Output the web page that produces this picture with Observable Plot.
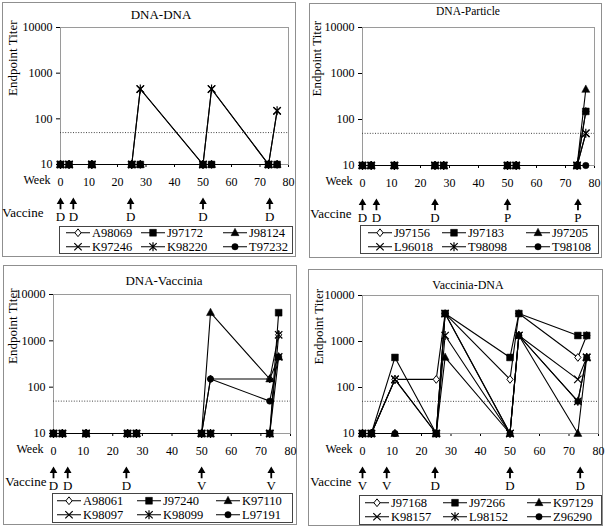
<!DOCTYPE html>
<html><head><meta charset="utf-8">
<script src="https://cdn.jsdelivr.net/npm/d3@7"></script>
<script src="https://cdn.jsdelivr.net/npm/@observablehq/plot@0.6"></script>
<style>
body{margin:0;background:#fff;font-family:"Liberation Serif","Times New Roman",serif;color:#000;}
#root{position:relative;width:608px;height:527px;overflow:hidden;background:#fff;}
.frame{position:absolute;border:1px solid #8f8f8f;box-sizing:border-box;}
.title{position:absolute;transform:translate(-50%,-50%);white-space:nowrap;font-size:13px;line-height:1;}
.legend{position:absolute;border:1px solid #444;box-sizing:border-box;background:#fff;}
.entry{position:absolute;display:flex;align-items:center;transform:translateY(-50%);white-space:nowrap;font-size:12.5px;line-height:1;}
.entry svg{display:block;margin-right:2px;}
</style></head><body><div id="root"></div>
<script>
// ---------- shared axis data ----------
const xTicks = [0, 10, 20, 30, 40, 50, 60, 70, 80];
const yTicks = [10, 100, 1000, 10000];
const thresholdTiter = 50;
const baselineTiter = 10;
const seriesSymbols = ["diamond", "square", "triangle", "times", "asterisk", "circle"];

// ---------- DNA-DNA ----------
const p1Title = "DNA-DNA";
const p1Weeks = [0, 3, 11, 25, 28, 50, 53, 73, 76];
const p1Names = ["A98069", "J97172", "J98124", "K97246", "K98220", "T97232"];
const p1A98069 = [10, 10, 10, 10, 10, 10, 10, 10, 10];
const p1J97172 = [10, 10, 10, 10, 10, 10, 10, 10, 10];
const p1J98124 = [10, 10, 10, 10, 10, 10, 10, 10, 10];
const p1K97246 = [10, 10, 10, 10, 450, 10, 450, 10, 150];
const p1K98220 = [10, 10, 10, 10, 450, 10, 450, 10, 150];
const p1T97232 = [10, 10, 10, 10, 10, 10, 10, 10, 10];
const p1VaccineWeeks = [0, 4.5, 24.6, 50, 73.4];
const p1VaccineLabels = ["D", "D", "D", "D", "D"];

// ---------- DNA-Particle ----------
const p2Title = "DNA-Particle";
const p2Weeks = [0, 3, 11, 25, 28, 50, 53, 74, 77];
const p2Names = ["J97156", "J97183", "J97205", "L96018", "T98098", "T98108"];
const p2J97156 = [10, 10, 10, 10, 10, 10, 10, 10, 150];
const p2J97183 = [10, 10, 10, 10, 10, 10, 10, 10, 150];
const p2J97205 = [10, 10, 10, 10, 10, 10, 10, 10, 450];
const p2L96018 = [10, 10, 10, 10, 10, 10, 10, 10, 50];
const p2T98098 = [10, 10, 10, 10, 10, 10, 10, 10, 50];
const p2T98108 = [10, 10, 10, 10, 10, 10, 10, 10, 10];
const p2VaccineWeeks = [0, 4.8, 25, 50, 74.3];
const p2VaccineLabels = ["D", "D", "D", "P", "P"];

// ---------- DNA-Vaccinia ----------
const p3Title = "DNA-Vaccinia";
const p3Weeks = [0, 3, 11, 25, 28, 50, 53, 73, 76];
const p3Names = ["A98061", "J97240", "K97110", "K98097", "K98099", "L97191"];
const p3A98061 = [10, 10, 10, 10, 10, 10, 150, 150, 1350];
const p3J97240 = [10, 10, 10, 10, 10, 10, 10, 10, 4050];
const p3K97110 = [10, 10, 10, 10, 10, 10, 4050, 150, 450];
const p3K98097 = [10, 10, 10, 10, 10, 10, 10, 10, 450];
const p3K98099 = [10, 10, 10, 10, 10, 10, 10, 10, 1350];
const p3L97191 = [10, 10, 10, 10, 10, 10, 150, 50, 450];
const p3VaccineWeeks = [0, 4.8, 24.6, 50, 73.5];
const p3VaccineLabels = ["D", "D", "D", "V", "V"];

// ---------- Vaccinia-DNA ----------
const p4Title = "Vaccinia-DNA";
const p4Weeks = [0, 3, 11, 25, 28, 50, 53, 73, 76];
const p4Names = ["J97168", "J97266", "K97129", "K98157", "L98152", "Z96290"];
const p4J97168 = [10, 10, 150, 150, 4050, 150, 4050, 450, 1350];
const p4J97266 = [10, 10, 450, 10, 4050, 450, 4050, 1350, 1350];
const p4K97129 = [10, 10, 10, 10, 450, 10, 1350, 10, 450];
const p4K98157 = [10, 10, 150, 10, 4050, 10, 1350, 150, 450];
const p4L98152 = [10, 10, 150, 10, 1350, 10, 1350, 50, 450];
const p4Z96290 = [10, 10, 10, 10, 4050, 10, 1350, 50, 450];
const p4VaccineWeeks = [0, 8.2, 24.6, 50, 73.8];
const p4VaccineLabels = ["V", "V", "D", "D", "D"];

// ---------- marker shapes ----------
const shapes = {
  square: {draw(c) { c.rect(-3.4, -3.4, 6.8, 6.8); }},
  triangle: {draw(c) { c.moveTo(0, -4.5); c.lineTo(4, 2.9); c.lineTo(-4, 2.9); c.closePath(); }},
  diamond: {draw(c) { c.moveTo(0, -3.9); c.lineTo(3.1, 0); c.lineTo(0, 3.9); c.lineTo(-3.1, 0); c.closePath(); }},
  circle: {draw(c) { c.moveTo(3.2, 0); c.arc(0, 0, 3.2, 0, 2 * Math.PI); }},
  times: {draw(c) { c.moveTo(-3.7, -3.7); c.lineTo(3.7, 3.7); c.moveTo(-3.7, 3.7); c.lineTo(3.7, -3.7); }},
  asterisk: {draw(c) { c.moveTo(-3.7, -3.7); c.lineTo(3.7, 3.7); c.moveTo(-3.7, 3.7); c.lineTo(3.7, -3.7); c.moveTo(0, -4.5); c.lineTo(0, 4.5); }},
  arrow: {draw(c) { c.moveTo(0, -6); c.lineTo(3.8, 0.4); c.lineTo(-3.8, 0.4); c.closePath(); c.rect(-0.9, -0.5, 1.8, 6.2); }}
};
const shapeStyle = {
  square: {fill: "black", stroke: "black", strokeWidth: 0.5},
  triangle: {fill: "black", stroke: "black", strokeWidth: 0.5},
  circle: {fill: "black", stroke: "black", strokeWidth: 0.5},
  diamond: {fill: "white", stroke: "black", strokeWidth: 1},
  times: {fill: "none", stroke: "black", strokeWidth: 1.2},
  asterisk: {fill: "none", stroke: "black", strokeWidth: 1.2}
};
const markerOrder = [0, 5, 3, 4, 2, 1];

const panels = [
  {title: p1Title, titleX: 161, titleY: 14, titleSize: 13, weeks: p1Weeks, names: p1Names,
   titers: [p1A98069, p1J97172, p1J98124, p1K97246, p1K98220, p1T97232],
   vWeeks: p1VaccineWeeks, vLabels: p1VaccineLabels,
   frame: {l: 2, t: 2, r: 296, b: 257}, x0: 60, x80: 288, yTop: 27, yBottom: 164,
   yLabelDx: -48, vaccineDx: -17,
   legend: {l: 59, t: 226, r: 293, b: 254}, legendCols: [7, 82, 164], legendRows: [7, 20.5]},
  {title: p2Title, titleX: 468, titleY: 12, titleSize: 11.5, weeks: p2Weeks, names: p2Names,
   titers: [p2J97156, p2J97183, p2J97205, p2L96018, p2T98098, p2T98108],
   vWeeks: p2VaccineWeeks, vLabels: p2VaccineLabels,
   frame: {l: 309, t: 3, r: 602, b: 258}, x0: 362, x80: 594, yTop: 27, yBottom: 165,
   yLabelDx: -46, vaccineDx: -11,
   legend: {l: 360, t: 225, r: 599, b: 254}, legendCols: [8, 82, 166], legendRows: [8, 21.5]},
  {title: p3Title, titleX: 164, titleY: 280, titleSize: 13, weeks: p3Weeks, names: p3Names,
   titers: [p3A98061, p3J97240, p3K97110, p3K98097, p3K98099, p3L97191],
   vWeeks: p3VaccineWeeks, vLabels: p3VaccineLabels,
   frame: {l: 3, t: 265, r: 297, b: 525}, x0: 53, x80: 290, yTop: 294, yBottom: 433,
   yLabelDx: -41, vaccineDx: -7,
   legend: {l: 52, t: 493, r: 293, b: 523}, legendCols: [5, 85, 164], legendRows: [7.5, 21.5]},
  {title: p4Title, titleX: 468, titleY: 285, titleSize: 12, weeks: p4Weeks, names: p4Names,
   titers: [p4J97168, p4J97266, p4K97129, p4K98157, p4L98152, p4Z96290],
   vWeeks: p4VaccineWeeks, vLabels: p4VaccineLabels,
   frame: {l: 308, t: 269, r: 603, b: 526}, x0: 362, x80: 598, yTop: 295, yBottom: 433,
   yLabelDx: -44, vaccineDx: -11,
   legend: {l: 359, t: 495, r: 602, b: 525}, legendCols: [6, 84, 168], legendRows: [8, 22]}
];

const root = document.getElementById("root");

function el(tag, cls, style) {
  const e = document.createElement(tag);
  if (cls) e.className = cls;
  if (style) Object.assign(e.style, style);
  return e;
}

function legendIcon(symbolName) {
  const p = d3.path();
  shapes[symbolName].draw(p);
  const s = shapeStyle[symbolName];
  const ns = "http://www.w3.org/2000/svg";
  const svg = document.createElementNS(ns, "svg");
  svg.setAttribute("width", 24); svg.setAttribute("height", 10);
  const line = document.createElementNS(ns, "line");
  line.setAttribute("x1", 0); line.setAttribute("x2", 24);
  line.setAttribute("y1", 5); line.setAttribute("y2", 5);
  line.setAttribute("stroke", "black"); line.setAttribute("stroke-width", 1.1);
  svg.appendChild(line);
  const path = document.createElementNS(ns, "path");
  path.setAttribute("d", p.toString());
  path.setAttribute("transform", "translate(12,5)");
  path.setAttribute("fill", s.fill); path.setAttribute("stroke", s.stroke);
  path.setAttribute("stroke-width", s.strokeWidth);
  svg.appendChild(path);
  return svg;
}

for (const cfg of panels) {
  root.appendChild(el("div", "frame", {left: cfg.frame.l + "px", top: cfg.frame.t + "px",
    width: (cfg.frame.r - cfg.frame.l) + "px", height: (cfg.frame.b - cfg.frame.t) + "px"}));

  const svgL = cfg.frame.l + 1, svgT = cfg.frame.t + 1;
  const svgW = cfg.frame.r - cfg.frame.l - 2;
  const svgH = cfg.legend.t - cfg.frame.t - 2;

  const marks = [];
  marks.push(Plot.frame({stroke: "#9a9a9a", strokeWidth: 1}));
  marks.push(Plot.ruleY([thresholdTiter], {stroke: "#444", strokeWidth: 1, strokeDasharray: "1,1.6"}));
  const rowsBySeries = cfg.titers.map(vals => cfg.weeks.map((w, j) => ({week: w, titer: vals[j]})));
  rowsBySeries.forEach(rows => {
    marks.push(Plot.line(rows, {x: "week", y: "titer", stroke: "black", strokeWidth: 1.1}));
  });
  markerOrder.forEach(i => {
    const sym = seriesSymbols[i];
    marks.push(Plot.dot(rowsBySeries[i], {x: "week", y: "titer", symbol: shapes[sym], ...shapeStyle[sym]}));
  });
  marks.push(Plot.dot(cfg.vWeeks, {x: d => d, y: () => baselineTiter, symbol: shapes.arrow, fill: "black", stroke: "none", dy: 39}));
  marks.push(Plot.text(cfg.vWeeks, {x: d => d, y: () => baselineTiter, text: (d, i) => cfg.vLabels[i], dy: 52, fontSize: 13}));
  marks.push(Plot.text(["Week"], {frameAnchor: "bottom-left", text: d => d, textAnchor: "end", dx: -10, dy: 19, fontSize: 12}));
  marks.push(Plot.text(["Vaccine"], {frameAnchor: "bottom-left", text: d => d, textAnchor: "end", dx: cfg.vaccineDx, dy: 52, fontSize: 13}));
  marks.push(Plot.text(["Endpoint Titer"], {frameAnchor: "left", text: d => d, rotate: -90, dx: cfg.yLabelDx, fontSize: 13}));

  const chart = Plot.plot({
    width: svgW, height: svgH,
    marginLeft: cfg.x0 - svgL, marginRight: svgL + svgW - cfg.x80,
    marginTop: cfg.yTop - svgT, marginBottom: svgT + svgH - cfg.yBottom,
    x: {domain: [0, 80], ticks: xTicks, tickSize: 3, tickPadding: 10, tickFormat: d => String(d), label: null, line: true},
    y: {type: "log", domain: [10, 10000], ticks: yTicks, tickSize: 4, tickPadding: 4, tickFormat: d => String(d), label: null, line: true},
    style: {fontFamily: "'Liberation Serif', 'Times New Roman', serif", fontSize: "12px", background: "transparent", overflow: "visible", color: "black"},
    marks
  });
  Object.assign(chart.style, {position: "absolute", left: svgL + "px", top: svgT + "px", maxWidth: "none"});
  root.appendChild(chart);

  const t = el("div", "title", {left: cfg.titleX + "px", top: cfg.titleY + "px", fontSize: cfg.titleSize + "px"});
  t.textContent = cfg.title;
  root.appendChild(t);

  const lg = el("div", "legend", {left: cfg.legend.l + "px", top: cfg.legend.t + "px",
    width: (cfg.legend.r - cfg.legend.l) + "px", height: (cfg.legend.b - cfg.legend.t) + "px"});
  cfg.names.forEach((name, i) => {
    const col = i % 3, row = Math.floor(i / 3);
    const e = el("div", "entry", {left: (cfg.legendCols[col] - 1) + "px", top: (cfg.legendRows[row] - 1) + "px"});
    e.appendChild(legendIcon(seriesSymbols[i]));
    const s = document.createElement("span");
    s.textContent = name;
    e.appendChild(s);
    lg.appendChild(e);
  });
  root.appendChild(lg);
}
</script>
</body></html>
